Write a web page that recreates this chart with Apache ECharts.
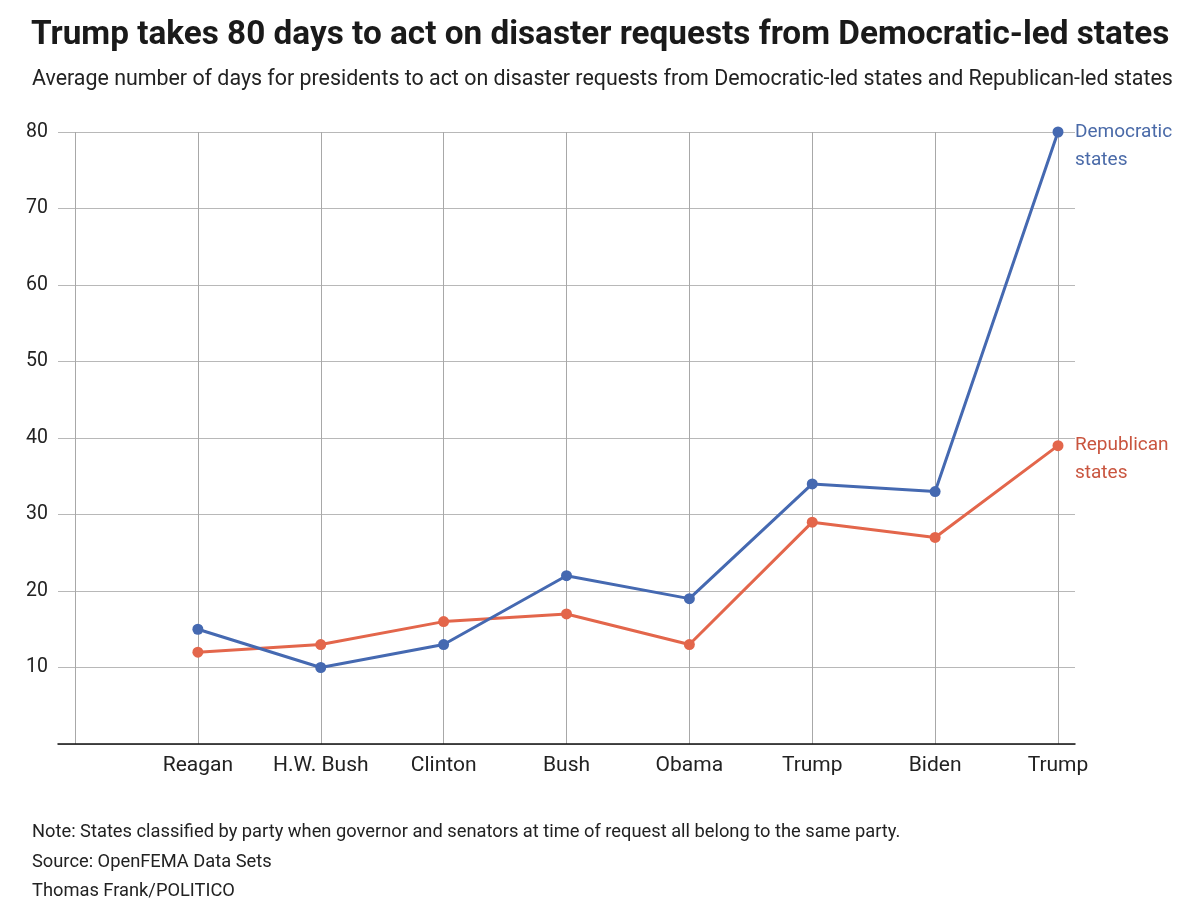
<!DOCTYPE html>
<html>
<head>
<meta charset="utf-8">
<script src="https://cdn.jsdelivr.net/npm/echarts@6/dist/echarts.min.js"></script>
<style>
    html, body { margin: 0; padding: 0; background: #fff; }
    #container { width: 1186px; height: 924px; }
</style>
</head>
<body>
<div id="container"></div>
<script>
    // 数据
    const presidents = ['Reagan', 'H.W. Bush', 'Clinton', 'Bush', 'Obama', 'Trump', 'Biden', 'Trump'];
    const democraticDays = [15, 10, 13, 22, 19, 34, 33, 80];
    const republicanDays = [12, 13, 16, 17, 13, 29, 27, 39];
    const yTicks = [0, 80, 10];  // min, max, interval

    const font = 'Roboto';
    const blue = '#4569b1';
    const red = '#e3664b';

    function toPoints(values) {
        return values.map(function (v, i) {
            return [i + 1, v];
        });
    }

    let myChart = echarts.init(document.getElementById('container'));
    let option = {
        backgroundColor: '#fff',
        animation: false,
        textStyle: { fontFamily: font },
        title: [{
            text: 'Trump takes 80 days to act on disaster requests from Democratic-led states',
            left: 26, top: 14,
            textStyle: { fontFamily: font, fontSize: 33.3, fontWeight: 'bold', color: '#1a1a1a' }
        }, {
            text: 'Average number of days for presidents to act on disaster requests from Democratic-led states and Republican-led states',
            left: 27, top: 64,
            textStyle: { fontFamily: font, fontSize: 21.4, fontWeight: 'normal', color: '#222' }
        }, {
            text: 'Note: States classified by party when governor and senators at time of request all belong to the same party.\nSource: OpenFEMA Data Sets\nThomas Frank/POLITICO',
            left: 27, top: 813,
            textStyle: { fontFamily: font, fontSize: 18.3, fontWeight: 'normal', color: '#222', lineHeight: 29.5 }
        }],
        grid: [
            // 横向网格线
            { left: 58, right: 111, top: 132, bottom: 180 },
            // 纵向网格线 + 数据
            { left: 75, right: 128, top: 132, bottom: 180 }
        ],
        xAxis: [{
            gridIndex: 0,
            type: 'value',
            min: 0, max: 1,
            axisLine: { show: true, lineStyle: { color: '#111', width: 1.5 } },
            axisTick: { show: false },
            axisLabel: { show: false },
            splitLine: { show: false }
        }, {
            gridIndex: 1,
            type: 'value',
            min: 0, max: presidents.length, interval: 1,
            axisLine: { show: false },
            axisTick: { show: false },
            axisLabel: {
                margin: 11,
                fontSize: 21,
                color: '#222',
                formatter: function (value) {
                    return presidents[value - 1] || '';
                }
            },
            splitLine: { show: true, lineStyle: { color: '#a8a8a8', width: 1 } }
        }],
        yAxis: [{
            gridIndex: 0,
            type: 'value',
            min: yTicks[0], max: yTicks[1], interval: yTicks[2],
            axisLine: { show: false },
            axisTick: { show: false },
            axisLabel: {
                margin: 10,
                fontSize: 19.5,
                color: '#222',
                formatter: function (value) {
                    return value === 0 ? '' : value;
                }
            },
            splitLine: { show: true, lineStyle: { color: '#b8b8b8', width: 1 } }
        }, {
            gridIndex: 1,
            type: 'value',
            min: yTicks[0], max: yTicks[1], interval: yTicks[2],
            show: false
        }],
        series: [{
            name: 'Democratic states',
            type: 'line',
            xAxisIndex: 1, yAxisIndex: 1,
            data: toPoints(democraticDays),
            symbol: 'circle',
            symbolSize: 11,
            lineStyle: { color: blue, width: 3 },
            itemStyle: { color: blue },
            endLabel: {
                show: true,
                formatter: 'Democratic\nstates',
                color: '#4a6aa8',
                fontSize: 19,
                lineHeight: 28,
                distance: 17,
                offset: [0, 14]
            },
            z: 3
        }, {
            name: 'Republican states',
            type: 'line',
            xAxisIndex: 1, yAxisIndex: 1,
            data: toPoints(republicanDays),
            symbol: 'circle',
            symbolSize: 11,
            lineStyle: { color: red, width: 3 },
            itemStyle: { color: red },
            endLabel: {
                show: true,
                formatter: 'Republican\nstates',
                color: '#c9553f',
                fontSize: 19,
                lineHeight: 28,
                distance: 17,
                offset: [0, 14]
            },
            z: 2
        }]
    };
    myChart.setOption(option);
</script>
</body>
</html>
